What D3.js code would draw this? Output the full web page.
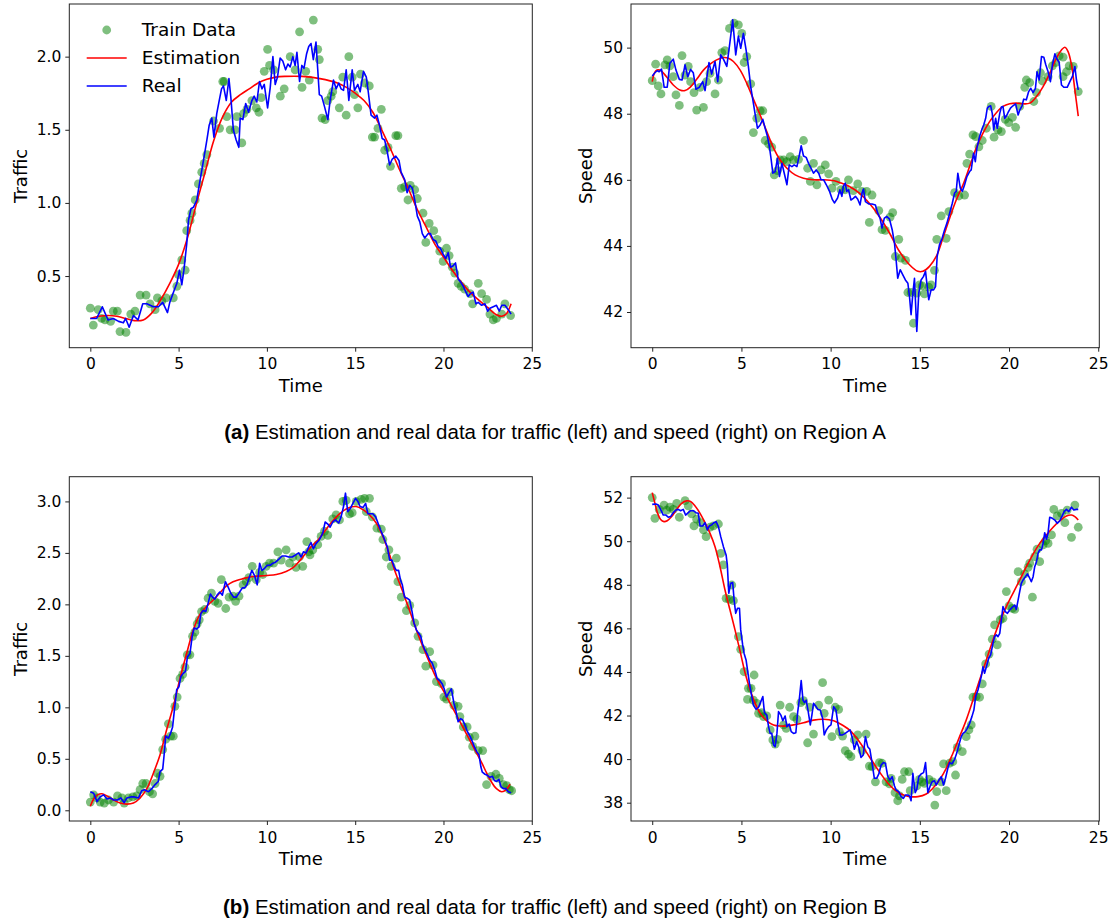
<!DOCTYPE html>
<html><head><meta charset="utf-8">
<script src="https://cdn.jsdelivr.net/npm/d3@7"></script>
<style>body{margin:0;background:#fff}svg{display:block}</style>
</head><body>
<svg id="chart" width="1110" height="923"></svg>
<script>
// ---------- DATA ----------
const xTicks = [0, 5, 10, 15, 20, 25];
const aTrafficTicks = [0.5, 1.0, 1.5, 2.0];
const aSpeedTicks = [42, 44, 46, 48, 50];
const bTrafficTicks = [0.0, 0.5, 1.0, 1.5, 2.0, 2.5, 3.0];
const bSpeedTicks = [38, 40, 42, 44, 46, 48, 50, 52];
const legendLabels = ["Train Data", "Estimation", "Real"];
const captionA = ["(a)", " Estimation and real data for traffic (left) and speed (right) on Region A"];
const captionB = ["(b)", " Estimation and real data for traffic (left) and speed (right) on Region B"];

// Region A - traffic
const aTrafficTrain = [[0,0.28],[0.17,0.165],[0.45,0.27],[0.64,0.21],[0.83,0.20],[1.15,0.19],[1.3,0.26],[1.53,0.26],[1.68,0.12],[2.02,0.115],[2.29,0.24],[2.53,0.26],[2.82,0.37],[3.16,0.37],[3.38,0.31],[3.67,0.27],[3.8,0.35],[4.05,0.33],[4.29,0.35],[4.7,0.35],[4.9,0.43],[4.99,0.51],[5.18,0.61],[5.37,0.54],[5.46,0.81],[5.65,0.88],[5.75,0.93],[5.94,1.02],[6.12,1.13],[6.31,1.21],[6.45,1.27],[6.6,1.33],[6.98,1.56],[7.32,1.51],[7.5,1.83],[7.58,1.83],[7.73,1.59],[7.92,1.50],[8.2,1.50],[8.3,1.59],[8.58,1.41],[8.68,1.61],[8.87,1.64],[9.15,1.70],[9.4,1.65],[9.55,1.62],[9.68,1.72],[9.85,1.90],[10.04,2.05],[10.15,1.94],[10.38,1.91],[10.76,1.73],[10.98,1.78],[11.32,2.0],[11.6,1.91],[11.85,2.17],[11.99,1.79],[12.2,1.90],[12.4,1.84],[12.63,2.25],[12.88,2.05],[12.97,1.98],[13.12,1.58],[13.3,1.57],[13.45,1.70],[13.64,1.73],[13.73,1.76],[14.1,1.65],[14.3,1.86],[14.49,1.60],[14.64,2.0],[14.83,1.86],[14.96,1.74],[15.15,1.65],[15.3,1.88],[15.53,1.82],[15.8,1.80],[15.97,1.45],[16.1,1.45],[16.29,1.51],[16.48,1.64],[16.67,1.36],[16.86,1.38],[17.0,1.25],[17.3,1.46],[17.42,1.46],[17.61,1.10],[17.8,1.11],[17.99,1.02],[18.12,1.12],[18.37,1.09],[18.52,1.03],[18.84,0.93],[19.0,0.73],[19.19,0.86],[19.45,0.81],[19.64,0.75],[19.79,0.67],[19.98,0.60],[20.17,0.69],[20.32,0.64],[20.5,0.56],[20.64,0.52],[20.83,0.45],[21.0,0.43],[21.2,0.41],[21.5,0.38],[21.65,0.31],[21.97,0.45],[22.16,0.38],[22.44,0.34],[22.63,0.24],[22.82,0.20],[23.0,0.21],[23.3,0.24],[23.48,0.31],[23.8,0.23]];
const aTrafficReal = [[0,0.21],[0.36,0.21],[0.68,0.29],[1.0,0.20],[1.3,0.21],[1.6,0.19],[1.87,0.18],[2.0,0.21],[2.2,0.15],[2.44,0.23],[2.7,0.20],[2.97,0.31],[3.2,0.31],[3.57,0.29],[3.86,0.29],[4.1,0.32],[4.37,0.25],[4.5,0.32],[4.74,0.40],[4.9,0.45],[5.05,0.54],[5.18,0.44],[5.3,0.54],[5.46,0.72],[5.56,0.88],[5.7,0.96],[5.84,0.97],[6.03,1.02],[6.18,1.13],[6.31,1.22],[6.45,1.32],[6.6,1.43],[6.73,1.53],[6.88,1.58],[7.0,1.45],[7.16,1.61],[7.3,1.70],[7.43,1.78],[7.54,1.80],[7.7,1.70],[7.85,1.85],[7.96,1.72],[8.1,1.50],[8.26,1.43],[8.41,1.38],[8.49,1.58],[8.64,1.57],[8.8,1.68],[8.96,1.62],[9.15,1.70],[9.28,1.73],[9.43,1.69],[9.58,1.83],[9.72,1.78],[9.85,1.81],[10.04,1.65],[10.19,1.79],[10.34,2.0],[10.47,1.81],[10.6,1.86],[10.75,1.99],[10.9,1.97],[11.06,1.91],[11.19,1.95],[11.32,1.93],[11.47,2.0],[11.6,1.94],[11.7,2.03],[11.85,1.83],[11.98,1.94],[12.1,1.92],[12.25,2.02],[12.37,2.07],[12.5,2.09],[12.63,1.98],[12.78,2.10],[12.97,1.74],[13.1,1.73],[13.26,1.66],[13.45,1.57],[13.58,1.70],[13.77,1.84],[13.92,1.78],[14.07,1.82],[14.2,1.78],[14.34,1.77],[14.49,1.91],[14.64,1.70],[14.83,1.91],[14.96,1.77],[15.15,1.81],[15.28,1.76],[15.47,1.90],[15.63,1.86],[15.74,1.76],[15.9,1.60],[16.1,1.58],[16.23,1.60],[16.38,1.53],[16.53,1.44],[16.67,1.43],[16.8,1.36],[16.95,1.26],[17.1,1.30],[17.3,1.32],[17.48,1.29],[17.6,1.21],[17.8,1.16],[17.94,1.07],[18.09,1.12],[18.24,1.10],[18.37,1.02],[18.52,0.91],[18.66,0.87],[18.8,0.79],[18.94,0.76],[19.13,0.79],[19.26,0.79],[19.41,0.75],[19.56,0.74],[19.7,0.70],[19.83,0.69],[19.98,0.65],[20.13,0.62],[20.27,0.66],[20.4,0.56],[20.55,0.57],[20.68,0.59],[20.83,0.48],[20.97,0.46],[21.12,0.43],[21.27,0.39],[21.4,0.36],[21.53,0.38],[21.68,0.39],[21.84,0.31],[21.97,0.32],[22.16,0.30],[22.35,0.31],[22.5,0.26],[22.63,0.28],[22.82,0.29],[23.0,0.30],[23.16,0.26],[23.3,0.30],[23.48,0.30],[23.67,0.27],[23.83,0.24]];
const aTrafficEst = [[0,0.21],[0.5,0.225],[1,0.23],[1.5,0.225],[2,0.21],[2.5,0.195],[3,0.20],[3.5,0.25],[4,0.34],[4.5,0.45],[5,0.58],[5.5,0.76],[6,0.99],[6.5,1.21],[7,1.43],[7.5,1.59],[8,1.69],[8.5,1.74],[9,1.78],[9.5,1.82],[10,1.845],[10.5,1.86],[11,1.865],[12,1.865],[13,1.85],[14,1.82],[14.5,1.79],[15,1.75],[15.5,1.70],[16,1.62],[16.5,1.50],[17,1.37],[17.5,1.23],[18,1.10],[18.5,0.96],[19,0.84],[19.5,0.72],[20,0.63],[20.5,0.54],[21,0.46],[21.5,0.39],[22,0.335],[22.5,0.285],[23,0.235],[23.3,0.225],[23.55,0.24],[23.83,0.31]];

// Region A - speed
const aSpeedTrain = [[0,49.0],[0.19,49.5],[0.34,48.84],[0.49,48.6],[0.71,49.48],[0.84,49.63],[0.99,49.45],[1.18,49.12],[1.33,48.57],[1.52,48.25],[1.67,49.76],[1.84,49.17],[2.02,49.43],[2.15,48.97],[2.34,48.64],[2.49,48.11],[2.68,48.8],[2.87,48.19],[3.05,48.97],[3.24,49.22],[3.52,48.6],[3.71,49.02],[3.9,49.85],[4.08,49.91],[4.33,50.58],[4.59,50.74],[4.83,50.69],[5.02,50.43],[5.15,49.55],[5.3,49.73],[5.52,48.9],[5.67,47.43],[5.86,47.86],[6.05,48.09],[6.2,48.09],[6.33,47.19],[6.52,47.09],[6.7,46.99],[6.84,46.15],[7.02,46.28],[7.17,46.6],[7.36,46.6],[7.55,46.55],[7.73,46.7],[7.92,46.6],[8.2,46.62],[8.48,47.19],[8.71,46.35],[8.86,45.95],[9.04,46.5],[9.23,45.85],[9.46,46.3],[9.7,46.45],[9.89,46.18],[10.08,45.75],[10.3,45.95],[10.58,45.7],[10.82,45.7],[11.0,46.0],[11.27,45.67],[11.52,45.88],[11.76,45.65],[12.02,45.65],[12.32,45.54],[12.17,44.71],[12.7,45.07],[12.88,44.49],[13.07,44.47],[13.33,44.87],[13.48,45.01],[13.82,44.2],[13.63,43.68],[13.95,43.63],[14.2,43.56],[14.33,42.59],[14.51,42.59],[14.64,41.66],[14.83,42.57],[14.98,42.82],[15.13,42.79],[15.26,42.55],[15.5,42.75],[15.63,42.82],[15.82,43.26],[15.95,44.2],[16.2,44.91],[16.48,44.23],[16.63,45.04],[16.95,45.61],[17.19,45.51],[17.51,45.54],[17.64,46.5],[17.79,46.78],[17.98,47.36],[18.13,47.31],[18.31,47.0],[18.5,47.19],[18.73,47.56],[19.0,48.22],[19.16,47.29],[19.38,47.51],[19.57,47.46],[19.79,47.83],[19.98,47.73],[20.19,47.89],[20.37,47.59],[20.6,48.22],[20.88,48.8],[20.97,49.02],[21.16,48.94],[21.39,48.37],[21.54,48.64],[21.76,49.24],[21.87,48.99],[22.19,49.12],[22.43,49.45],[22.62,49.55],[22.81,49.75],[23.03,49.71],[23.03,49.12],[23.22,49.27],[23.37,49.45],[23.6,49.43],[23.88,48.67]];
const aSpeedReal = [[0,49.14],[0.15,49.24],[0.28,49.30],[0.39,49.27],[0.52,49.35],[0.67,48.80],[0.84,48.80],[0.99,49.53],[1.18,49.65],[1.33,49.32],[1.52,49.04],[1.67,49.02],[1.84,49.48],[1.99,49.12],[2.15,49.34],[2.3,49.24],[2.45,48.74],[2.64,48.80],[2.83,48.97],[2.96,48.70],[3.18,49.55],[3.33,49.20],[3.52,49.58],[3.67,48.97],[3.84,49.78],[3.99,49.65],[4.18,49.43],[4.36,50.18],[4.51,50.84],[4.68,49.78],[4.83,50.35],[4.96,49.98],[5.11,50.43],[5.26,49.93],[5.39,49.43],[5.52,48.82],[5.64,48.42],[5.79,47.91],[5.9,47.56],[6.05,47.66],[6.2,47.83],[6.33,47.56],[6.46,47.31],[6.57,47.0],[6.67,46.6],[6.76,46.2],[6.89,46.25],[7.02,46.65],[7.13,46.1],[7.27,46.5],[7.4,46.2],[7.55,45.85],[7.68,46.45],[7.83,46.4],[7.96,46.45],[8.11,46.4],[8.26,46.78],[8.35,47.03],[8.48,46.72],[8.63,46.68],[8.76,46.5],[8.9,46.35],[9.04,46.2],[9.19,46.3],[9.33,46.2],[9.46,46.0],[9.61,46.0],[9.76,45.85],[9.94,45.65],[10.1,45.4],[10.22,45.3],[10.39,45.45],[10.52,45.7],[10.63,45.5],[10.71,45.8],[10.82,45.9],[10.9,45.65],[11.0,45.7],[11.14,45.39],[11.27,45.44],[11.39,45.5],[11.52,45.41],[11.65,45.24],[11.76,45.6],[11.84,45.72],[11.95,45.34],[12.13,45.27],[12.32,45.27],[12.51,45.24],[12.64,44.99],[12.77,44.84],[12.88,44.54],[13.01,44.84],[13.15,44.89],[13.3,44.81],[13.45,44.49],[13.58,44.08],[13.67,43.58],[13.76,43.02],[13.9,43.28],[14.04,43.13],[14.19,42.97],[14.33,42.87],[14.42,42.47],[14.51,41.92],[14.61,42.57],[14.7,43.02],[14.83,41.41],[14.94,42.57],[15.07,42.97],[15.2,43.07],[15.32,43.23],[15.41,42.79],[15.5,42.37],[15.63,42.67],[15.77,42.67],[15.88,42.77],[15.97,43.68],[16.1,44.03],[16.25,44.23],[16.39,44.49],[16.52,44.69],[16.67,44.99],[16.82,45.29],[16.95,45.6],[17.04,45.65],[17.13,46.2],[17.27,45.75],[17.38,45.65],[17.51,45.85],[17.64,46.1],[17.79,46.25],[17.88,46.3],[18.01,46.8],[18.11,46.55],[18.2,46.96],[18.35,47.31],[18.5,47.56],[18.58,47.66],[18.69,47.86],[18.78,48.17],[18.88,48.22],[18.97,48.24],[19.06,48.01],[19.14,47.51],[19.25,47.86],[19.34,47.56],[19.48,48.01],[19.57,48.2],[19.66,48.22],[19.76,47.86],[19.85,47.93],[19.94,48.03],[20.08,48.17],[20.22,48.24],[20.37,48.3],[20.51,47.96],[20.6,48.11],[20.73,48.24],[20.82,48.44],[20.97,48.42],[21.1,48.67],[21.22,48.77],[21.35,48.64],[21.48,48.77],[21.57,49.27],[21.69,49.02],[21.82,49.73],[21.95,49.71],[22.06,49.48],[22.19,49.27],[22.32,48.97],[22.43,49.48],[22.57,49.81],[22.66,49.68],[22.81,49.55],[22.94,48.87],[23.07,48.8],[23.26,48.8],[23.41,48.97],[23.56,49.14],[23.69,49.43],[23.78,49.02],[23.88,48.72]];
const aSpeedEst = [[0,48.97],[0.2,49.3],[0.43,49.32],[0.8,49.12],[1.18,48.87],[1.55,48.72],[1.84,48.7],[2.12,48.8],[2.49,49.04],[2.87,49.32],[3.24,49.5],[3.61,49.63],[3.99,49.7],[4.27,49.68],[4.55,49.58],[4.93,49.32],[5.3,48.92],[5.67,48.44],[6.05,47.96],[6.42,47.46],[6.8,46.96],[7.17,46.6],[7.55,46.35],[8.01,46.15],[8.48,46.05],[9.04,46.0],[9.61,46.0],[10.2,45.97],[10.6,45.9],[11.05,45.8],[11.61,45.6],[12.17,45.29],[12.73,44.89],[13.3,44.39],[13.86,43.83],[14.42,43.43],[14.89,43.23],[15.17,43.23],[15.54,43.38],[15.92,43.68],[16.29,44.23],[16.67,44.84],[17.04,45.39],[17.42,45.85],[17.79,46.4],[18.16,46.96],[18.54,47.41],[18.91,47.76],[19.29,48.03],[19.66,48.22],[20.04,48.3],[20.41,48.32],[20.79,48.3],[21.16,48.32],[21.54,48.52],[21.91,48.82],[22.28,49.22],[22.66,49.68],[22.94,49.93],[23.13,50.01],[23.31,49.88],[23.5,49.48],[23.69,48.72],[23.88,47.93]];

// Region B - traffic
const bTrafficTrain = [[0,0.08],[0.19,0.15],[0.38,0.12],[0.56,0.08],[0.79,0.07],[1.03,0.10],[1.32,0.08],[1.54,0.14],[1.79,0.12],[1.92,0.07],[2.16,0.12],[2.41,0.13],[2.63,0.14],[2.82,0.20],[2.97,0.26],[3.16,0.26],[3.35,0.18],[3.53,0.16],[3.67,0.26],[3.8,0.36],[3.95,0.33],[4.1,0.59],[4.27,0.69],[4.42,0.84],[4.55,0.72],[4.7,0.72],[4.79,1.01],[4.92,1.10],[5.08,1.28],[5.23,1.32],[5.36,1.39],[5.49,1.51],[5.64,1.51],[5.79,1.69],[5.92,1.73],[6.05,1.81],[6.17,1.85],[6.3,1.93],[6.48,1.95],[6.67,2.06],[6.86,2.11],[7.05,2.03],[7.24,2.01],[7.42,2.24],[7.67,1.96],[7.86,2.07],[8.08,2.08],[8.23,2.03],[8.42,2.08],[8.65,2.19],[8.83,2.22],[8.98,2.26],[9.17,2.37],[9.4,2.24],[9.59,2.31],[9.77,2.29],[9.96,2.37],[10.15,2.40],[10.38,2.40],[10.62,2.51],[10.81,2.43],[11.09,2.53],[11.28,2.40],[11.47,2.46],[11.65,2.36],[11.84,2.46],[12.03,2.37],[12.26,2.61],[12.37,2.51],[12.44,2.48],[12.6,2.53],[12.88,2.58],[13.07,2.66],[13.26,2.71],[13.45,2.67],[13.73,2.83],[13.92,2.87],[14.11,2.82],[14.3,3.0],[14.49,3.01],[14.68,2.88],[14.83,2.89],[15.06,3.0],[15.34,3.02],[15.53,3.03],[15.81,3.03],[15.63,2.90],[15.97,2.85],[16.23,2.74],[16.48,2.73],[16.57,2.63],[16.76,2.46],[16.91,2.53],[17.04,2.37],[17.33,2.45],[17.42,2.22],[17.61,2.07],[17.9,1.94],[18.09,1.99],[18.37,1.82],[18.56,1.69],[18.84,1.56],[19.0,1.40],[19.22,1.54],[19.41,1.41],[19.6,1.25],[19.89,1.23],[20.02,1.10],[20.17,1.08],[20.36,1.15],[20.59,1.02],[20.83,1.01],[20.93,0.91],[21.12,0.81],[21.34,0.81],[21.46,0.71],[21.65,0.62],[21.78,0.72],[21.97,0.58],[22.22,0.58],[22.44,0.25],[22.69,0.33],[22.97,0.35],[23.16,0.31],[23.39,0.25],[23.58,0.24],[23.73,0.20],[23.86,0.19]];
const bTrafficReal = [[0,0.18],[0.19,0.165],[0.38,0.084],[0.56,0.13],[0.75,0.15],[0.94,0.11],[1.13,0.12],[1.32,0.10],[1.54,0.10],[1.73,0.12],[1.92,0.074],[2.07,0.12],[2.29,0.13],[2.5,0.13],[2.73,0.12],[2.91,0.19],[3.06,0.20],[3.29,0.18],[3.48,0.21],[3.67,0.25],[3.85,0.28],[3.95,0.375],[4.1,0.40],[4.17,0.52],[4.27,0.72],[4.42,0.70],[4.55,0.75],[4.66,0.81],[4.76,0.97],[4.89,1.17],[5.02,1.20],[5.13,1.30],[5.26,1.33],[5.39,1.35],[5.5,1.49],[5.64,1.52],[5.77,1.69],[5.88,1.77],[6.02,1.76],[6.15,1.78],[6.26,1.91],[6.39,1.94],[6.54,1.93],[6.67,2.01],[6.8,2.10],[6.92,2.07],[7.05,2.05],[7.18,2.09],[7.33,2.12],[7.48,2.09],[7.65,2.22],[7.8,2.17],[7.95,2.11],[8.12,2.07],[8.27,2.07],[8.42,2.11],[8.61,2.16],[8.74,2.16],[8.87,2.19],[9.02,2.27],[9.15,2.33],[9.3,2.28],[9.45,2.19],[9.59,2.40],[9.72,2.33],[9.87,2.35],[10.02,2.38],[10.19,2.38],[10.34,2.40],[10.49,2.41],[10.68,2.44],[10.86,2.47],[11.05,2.47],[11.24,2.46],[11.43,2.46],[11.62,2.48],[11.8,2.50],[11.94,2.46],[12.07,2.51],[12.22,2.50],[12.37,2.56],[12.5,2.60],[12.63,2.54],[12.78,2.59],[12.94,2.62],[13.07,2.66],[13.16,2.69],[13.3,2.80],[13.45,2.78],[13.58,2.75],[13.73,2.80],[13.88,2.82],[14.07,2.79],[14.2,2.85],[14.34,2.95],[14.45,3.08],[14.58,2.90],[14.72,2.93],[14.87,2.98],[15.02,3.03],[15.15,3.0],[15.28,2.95],[15.44,2.94],[15.59,2.98],[15.72,2.88],[15.85,2.88],[16.0,2.88],[16.16,2.85],[16.29,2.79],[16.42,2.73],[16.57,2.67],[16.7,2.61],[16.82,2.56],[16.95,2.43],[17.08,2.43],[17.2,2.37],[17.33,2.33],[17.46,2.33],[17.56,2.24],[17.67,2.19],[17.8,2.07],[17.94,2.06],[18.09,2.04],[18.22,1.93],[18.33,1.82],[18.47,1.75],[18.6,1.72],[18.71,1.69],[18.81,1.62],[18.94,1.56],[19.07,1.52],[19.22,1.46],[19.36,1.43],[19.51,1.36],[19.64,1.28],[19.79,1.26],[19.92,1.23],[20.04,1.18],[20.17,1.10],[20.3,1.14],[20.45,1.18],[20.59,1.04],[20.7,0.97],[20.83,0.86],[20.97,0.89],[21.08,0.88],[21.21,0.83],[21.34,0.77],[21.5,0.72],[21.63,0.67],[21.74,0.62],[21.88,0.57],[22.01,0.54],[22.12,0.42],[22.2,0.37],[22.35,0.35],[22.48,0.34],[22.63,0.32],[22.77,0.33],[22.88,0.29],[23.01,0.28],[23.14,0.30],[23.26,0.23],[23.39,0.21],[23.54,0.21],[23.67,0.18],[23.83,0.17]];
const bTrafficEst = [[0,0.04],[0.19,0.11],[0.41,0.15],[0.66,0.16],[0.94,0.14],[1.32,0.10],[1.69,0.07],[2.07,0.06],[2.44,0.07],[2.82,0.12],[3.2,0.21],[3.57,0.36],[3.95,0.54],[4.32,0.78],[4.7,1.01],[5.08,1.28],[5.45,1.52],[5.83,1.75],[6.2,1.90],[6.58,1.98],[6.95,2.04],[7.33,2.11],[7.71,2.18],[8.08,2.22],[8.65,2.25],[9.21,2.27],[9.96,2.28],[10.53,2.29],[11.09,2.32],[11.5,2.36],[11.84,2.42],[12.4,2.54],[12.97,2.64],[13.54,2.77],[14.11,2.88],[14.68,2.94],[15.06,2.95],[15.44,2.92],[15.8,2.87],[16.19,2.79],[16.57,2.66],[16.95,2.48],[17.3,2.30],[17.66,2.14],[18.1,1.93],[18.6,1.69],[19.1,1.48],[19.55,1.30],[20.0,1.16],[20.5,1.0],[21.0,0.84],[21.4,0.71],[21.8,0.58],[22.17,0.46],[22.45,0.36],[22.7,0.28],[23.0,0.21],[23.3,0.18],[23.55,0.20],[23.77,0.255]];

// Region B - speed
const bSpeedTrain = [[0,52.0],[0.15,51.05],[0.39,51.46],[0.66,51.66],[0.81,51.43],[0.99,51.56],[1.18,51.46],[1.37,51.74],[1.52,51.1],[1.84,51.86],[2.02,51.62],[2.21,51.25],[2.34,50.7],[2.49,51.01],[2.72,50.85],[2.87,50.52],[3.02,50.21],[3.24,50.64],[3.43,50.7],[3.71,50.79],[3.84,49.44],[3.99,48.91],[4.14,47.38],[4.33,47.33],[4.46,47.99],[4.55,47.27],[4.83,45.62],[4.96,45.04],[5.15,44.01],[5.34,42.74],[5.39,43.25],[5.54,43.25],[5.71,43.86],[5.67,42.71],[5.86,42.56],[5.96,42.1],[6.14,42.13],[6.24,41.95],[6.42,41.98],[6.61,41.34],[6.76,40.88],[6.89,40.69],[7.02,40.91],[7.17,42.48],[7.36,41.57],[7.51,41.41],[7.7,42.38],[7.92,41.95],[8.11,41.83],[8.33,42.59],[8.48,42.68],[8.71,40.75],[8.82,42.38],[9.04,41.15],[9.33,42.48],[9.55,43.51],[9.64,42.1],[9.89,42.71],[10.07,41.03],[10.26,42.38],[10.45,42.28],[10.49,41.26],[10.67,41.06],[10.82,40.39],[11.0,40.23],[11.14,40.11],[11.33,40.88],[11.52,41.11],[11.76,40.39],[11.99,41.15],[12.17,39.68],[12.32,39.65],[12.51,38.96],[12.73,39.84],[12.88,39.81],[13.11,38.96],[13.3,38.86],[13.39,39.12],[13.61,38.46],[13.76,38.09],[13.86,38.31],[14.01,39.07],[14.14,39.42],[14.38,39.42],[14.46,38.55],[14.83,38.77],[14.98,39.07],[15.13,38.96],[15.26,38.89],[15.51,39.07],[15.73,38.96],[15.84,37.89],[15.95,38.51],[16.2,38.96],[16.33,39.78],[16.48,38.55],[16.67,39.81],[16.85,39.88],[17.0,39.27],[17.1,40.54],[17.38,40.34],[17.6,41.03],[17.75,41.34],[17.88,41.57],[17.98,42.84],[18.16,42.87],[18.35,42.84],[18.5,43.45],[18.69,44.37],[18.88,44.82],[19.06,45.5],[19.19,46.16],[19.34,45.24],[19.51,46.39],[19.66,46.46],[19.85,47.69],[20.0,47.03],[20.19,46.92],[20.32,46.87],[20.51,48.6],[20.69,48.14],[20.88,48.5],[21.07,48.8],[21.16,48.99],[21.31,47.43],[21.44,49.29],[21.57,49.63],[21.72,49.06],[21.91,49.83],[22.06,50.03],[22.19,49.9],[22.38,50.29],[22.51,51.46],[22.7,51.16],[22.94,51.28],[23.13,50.85],[23.26,51.43],[23.5,50.18],[23.69,51.66],[23.88,50.64]];
const bSpeedReal = [[0,51.69],[0.21,51.71],[0.34,51.66],[0.47,51.46],[0.62,51.2],[0.77,51.2],[0.9,51.1],[1.03,51.13],[1.18,51.31],[1.33,51.43],[1.46,51.46],[1.59,51.4],[1.74,51.46],[1.87,51.2],[2.02,51.31],[2.15,51.4],[2.3,51.4],[2.45,51.31],[2.58,51.28],[2.68,50.7],[2.83,50.7],[2.96,50.85],[3.09,50.52],[3.2,50.7],[3.33,50.75],[3.46,50.85],[3.58,50.9],[3.71,50.67],[3.84,50.21],[3.99,49.75],[4.14,49.37],[4.21,48.91],[4.29,47.61],[4.4,48.07],[4.51,48.1],[4.59,47.3],[4.68,46.69],[4.78,46.92],[4.89,46.92],[4.96,45.93],[5.07,45.24],[5.15,44.85],[5.26,44.55],[5.34,44.09],[5.45,43.48],[5.58,42.87],[5.67,42.48],[5.82,42.28],[5.96,42.38],[6.05,42.56],[6.2,42.87],[6.29,42.13],[6.42,42.02],[6.52,41.49],[6.61,41.18],[6.7,41.18],[6.8,40.65],[6.89,40.57],[6.99,41.18],[7.08,42.18],[7.21,42.02],[7.32,41.76],[7.45,41.98],[7.55,41.49],[7.68,41.61],[7.79,41.26],[7.92,41.18],[8.05,41.21],[8.15,42.13],[8.24,42.71],[8.35,43.6],[8.45,42.71],[8.54,42.59],[8.63,42.71],[8.73,42.25],[8.86,41.57],[8.95,42.02],[9.04,42.56],[9.18,42.41],[9.29,42.28],[9.42,42.25],[9.55,41.87],[9.64,41.11],[9.76,41.34],[9.89,41.49],[10.02,41.57],[10.17,42.41],[10.3,42.25],[10.41,41.61],[10.52,41.11],[10.67,41.11],[10.82,41.18],[10.95,41.26],[11.09,41.34],[11.2,41.03],[11.33,40.45],[11.46,40.8],[11.57,40.57],[11.7,40.08],[11.83,40.19],[11.95,41.03],[12.08,40.57],[12.2,40.45],[12.32,39.84],[12.45,39.12],[12.58,39.12],[12.7,39.32],[12.83,39.73],[12.96,39.84],[13.07,39.81],[13.2,39.22],[13.33,39.04],[13.45,39.19],[13.58,38.77],[13.67,38.58],[13.82,38.51],[13.95,38.28],[14.08,38.2],[14.19,38.35],[14.33,38.35],[14.42,38.31],[14.51,38.09],[14.61,39.35],[14.74,38.46],[14.83,38.61],[14.94,39.19],[15.07,39.32],[15.21,39.38],[15.32,39.84],[15.45,38.46],[15.58,38.77],[15.69,38.96],[15.82,39.01],[15.92,38.81],[16.07,39.04],[16.2,39.19],[16.33,38.81],[16.44,39.12],[16.57,39.58],[16.67,39.84],[16.8,39.78],[16.95,39.99],[17.08,40.3],[17.19,40.65],[17.32,41.03],[17.42,41.18],[17.55,41.26],[17.66,41.41],[17.79,41.64],[17.92,41.95],[18.03,42.25],[18.13,42.87],[18.26,43.17],[18.35,43.48],[18.45,43.81],[18.54,44.24],[18.63,43.94],[18.73,44.24],[18.86,44.63],[18.97,44.78],[19.1,45.31],[19.19,45.62],[19.29,45.7],[19.38,45.62],[19.48,45.77],[19.57,46.38],[19.66,47.0],[19.79,46.77],[19.91,46.69],[20.04,46.84],[20.19,46.97],[20.32,47.07],[20.41,46.87],[20.56,47.53],[20.69,48.07],[20.79,48.22],[20.92,48.37],[21.03,48.5],[21.16,48.3],[21.25,48.14],[21.35,48.37],[21.44,48.83],[21.54,49.06],[21.63,49.45],[21.72,49.6],[21.82,49.6],[21.91,49.9],[22.0,50.39],[22.1,50.09],[22.19,50.39],[22.28,51.1],[22.43,51.05],[22.57,50.97],[22.7,50.82],[22.85,50.94],[22.98,51.16],[23.09,51.36],[23.22,51.46],[23.35,51.36],[23.5,51.56],[23.63,51.43],[23.78,51.46],[23.88,51.46]];
const bSpeedEst = [[0,52.23],[0.15,51.74],[0.3,51.28],[0.47,51.0],[0.66,50.9],[0.84,50.94],[1.09,51.13],[1.37,51.46],[1.65,51.74],[1.93,51.85],[2.15,51.82],[2.4,51.62],[2.68,51.28],[2.96,50.85],[3.24,50.36],[3.52,49.75],[3.8,48.83],[4.08,47.76],[4.36,46.84],[4.64,45.93],[4.93,44.93],[5.21,43.94],[5.49,43.17],[5.77,42.56],[6.05,42.1],[6.42,41.76],[6.8,41.57],[7.17,41.52],[7.55,41.52],[7.92,41.57],[8.48,41.67],[9.04,41.79],[9.61,41.83],[10.17,41.76],[10.49,41.64],[11.05,41.34],[11.61,40.8],[12.17,40.11],[12.73,39.42],[13.3,38.81],[13.86,38.43],[14.42,38.28],[14.89,38.28],[15.36,38.4],[15.73,38.66],[16.1,39.04],[16.48,39.58],[16.85,40.26],[17.23,41.03],[17.6,41.79],[17.98,42.71],[18.35,43.63],[18.73,44.55],[19.1,45.47],[19.48,46.31],[19.85,47.0],[20.22,47.61],[20.6,48.22],[20.97,48.83],[21.35,49.41],[21.72,49.9],[22.1,50.29],[22.47,50.64],[22.85,50.94],[23.22,51.16],[23.5,51.2],[23.69,51.13],[23.88,50.97]];

// ---------- DRAWING ----------
const FONT = "DejaVu Sans";
const svg = d3.select("#chart");
svg.append("rect").attr("width", 1110).attr("height", 923).attr("fill", "#fff");

const panels = [
  {train: aTrafficTrain, real: aTrafficReal, est: aTrafficEst, yDomain: [0.01, 2.36], yTicks: aTrafficTicks, fmt: ".1f", ylabel: "Traffic", box: [69.3, 4, 532.3, 347.7], xDomain: [-1.19, 25.03], ylabOff: 42.6, legend: true},
  {train: aSpeedTrain, real: aSpeedReal, est: aSpeedEst, yDomain: [40.92, 51.32], yTicks: aSpeedTicks, fmt: "d", ylabel: "Speed", box: [631, 4, 1099.3, 347.7], xDomain: [-1.19, 25.06], ylabOff: 39.5},
  {train: bTrafficTrain, real: bTrafficReal, est: bTrafficEst, yDomain: [-0.104, 3.24], yTicks: bTrafficTicks, fmt: ".1f", ylabel: "Traffic", box: [69.3, 476.7, 532.3, 821], xDomain: [-1.19, 25.03], ylabOff: 42.6},
  {train: bSpeedTrain, real: bSpeedReal, est: bSpeedEst, yDomain: [37.16, 52.96], yTicks: bSpeedTicks, fmt: "d", ylabel: "Speed", box: [631, 476.7, 1099.3, 821], xDomain: [-1.19, 25.06], ylabOff: 39.5}
];

function drawPanel(p) {
  const [x0, y0, x1, y1] = p.box;
  const x = d3.scaleLinear().domain(p.xDomain).range([x0, x1]);
  const y = d3.scaleLinear().domain(p.yDomain).range([y1, y0]);
  const g = svg.append("g");

  g.append("g").selectAll("circle").data(p.train).join("circle")
    .attr("cx", d => x(d[0])).attr("cy", d => y(d[1])).attr("r", 4.4)
    .attr("fill", "#008000").attr("fill-opacity", 0.5);

  const estLine = d3.line().x(d => x(d[0])).y(d => y(d[1])).curve(d3.curveCatmullRom.alpha(0.5));
  g.append("path").attr("d", estLine(p.est)).attr("fill", "none")
    .attr("stroke", "#ff0000").attr("stroke-width", 1.6).attr("stroke-linejoin", "round");

  const realLine = d3.line().x(d => x(d[0])).y(d => y(d[1]));
  g.append("path").attr("d", realLine(p.real)).attr("fill", "none")
    .attr("stroke", "#0000ff").attr("stroke-width", 1.6).attr("stroke-linejoin", "round");

  g.append("rect").attr("x", x0).attr("y", y0).attr("width", x1 - x0).attr("height", y1 - y0)
    .attr("fill", "none").attr("stroke", "#222").attr("stroke-width", 1);

  const xa = g.append("g").attr("transform", `translate(0,${y1})`)
    .call(d3.axisBottom(x).tickValues(xTicks).tickSize(4).tickPadding(6.5).tickFormat(d3.format("d")));
  xa.select(".domain").remove();
  xa.attr("font-family", FONT).attr("font-size", 15.5);
  xa.selectAll("line").attr("stroke", "#222");
  xa.selectAll("text").attr("fill", "#000");

  const ya = g.append("g").attr("transform", `translate(${x0},0)`)
    .call(d3.axisLeft(y).tickValues(p.yTicks).tickSize(4).tickPadding(4).tickFormat(d3.format(p.fmt)));
  ya.select(".domain").remove();
  ya.attr("font-family", FONT).attr("font-size", 15.5);
  ya.selectAll("line").attr("stroke", "#222");
  ya.selectAll("text").attr("fill", "#000");

  g.append("text").attr("x", (x0 + x1) / 2).attr("y", y1 + 44)
    .attr("text-anchor", "middle").attr("font-family", FONT).attr("font-size", 18).text("Time");
  const ly = (y0 + y1) / 2, lx = x0 - p.ylabOff;
  g.append("text").attr("transform", `translate(${lx},${ly}) rotate(-90)`)
    .attr("text-anchor", "middle").attr("font-family", FONT).attr("font-size", 18).text(p.ylabel);

  if (p.legend) {
    const lg = g.append("g");
    const rows = [30, 58, 86];
    lg.append("circle").attr("cx", 106.7).attr("cy", rows[0]).attr("r", 4.4)
      .attr("fill", "#008000").attr("fill-opacity", 0.5);
    lg.append("line").attr("x1", 86.7).attr("x2", 126.7).attr("y1", rows[1]).attr("y2", rows[1])
      .attr("stroke", "#ff0000").attr("stroke-width", 1.6);
    lg.append("line").attr("x1", 86.7).attr("x2", 126.7).attr("y1", rows[2]).attr("y2", rows[2])
      .attr("stroke", "#0000ff").attr("stroke-width", 1.6);
    lg.selectAll("text").data(legendLabels).join("text")
      .attr("x", 141.7).attr("y", (d, i) => rows[i]).attr("dy", "0.35em")
      .attr("font-family", FONT).attr("font-size", 18.5).text(d => d);
  }
}
panels.forEach(drawPanel);

function caption(parts, yBase) {
  const t = svg.append("text").attr("x", 555).attr("y", yBase).attr("text-anchor", "middle")
    .attr("font-family", "Liberation Sans").attr("font-size", 20.5).attr("fill", "#000");
  t.append("tspan").attr("font-weight", "bold").text(parts[0]);
  t.append("tspan").text(parts[1]);
}
caption(captionA, 439);
caption(captionB, 914);
</script>
</body></html>
